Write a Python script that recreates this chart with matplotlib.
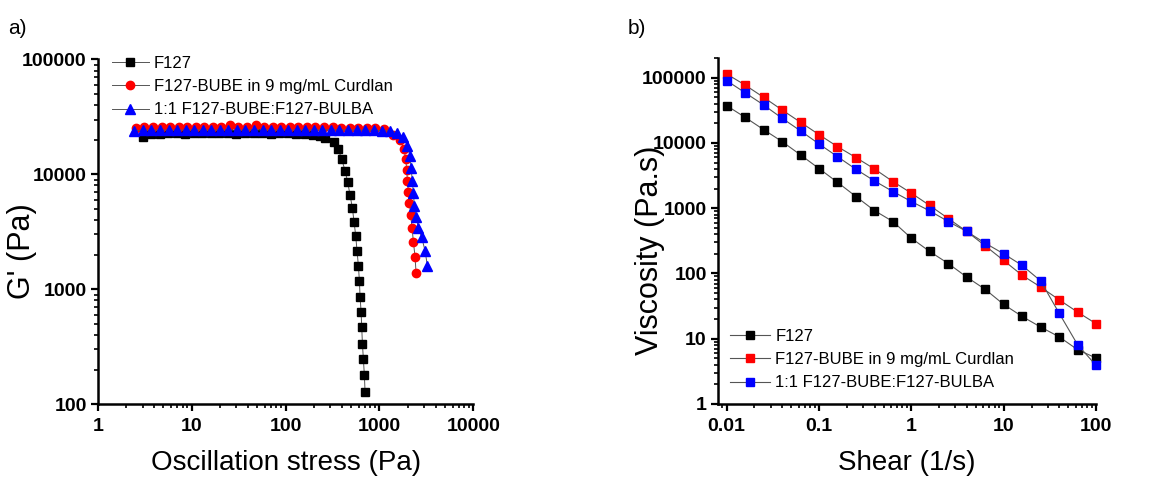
import numpy as np
import matplotlib
matplotlib.use("Agg")
import matplotlib.pyplot as plt
from matplotlib.ticker import FixedLocator, FixedFormatter, LogLocator, NullFormatter

plt.rcParams['font.family'] = ['Liberation Sans', 'DejaVu Sans']

# ---- panel a: amplitude sweep, G' vs oscillation stress ----
f127_stress = [3.0, 3.7, 4.56, 5.62, 6.93, 8.55, 10.5, 13.0, 16.0, 19.7, 24.3, 30.0,
               37.0, 45.6, 56.2, 69.3, 85.5, 105, 130, 160, 198, 230, 263, 331, 365,
               396, 430, 459, 486, 515, 536, 558, 577, 596, 611, 621, 637, 647, 658,
               674, 690, 702]
f127_g = [21000, 22300, 22600, 22700, 22700, 22600, 22700, 22700, 22800, 22700, 22700,
          22600, 22700, 22700, 22700, 22600, 22700, 22700, 22600, 22400, 22000, 21500,
          20800, 19200, 16500, 13500, 10800, 8520, 6610, 5060, 3870, 2930, 2150, 1610,
          1190, 863, 640, 468, 337, 246, 180, 129]

bube_stress = [2.55, 3.14, 3.88, 4.78, 5.9, 7.27, 8.96, 11.1, 13.6, 16.8, 20.7, 25.6,
               31.5, 38.9, 47.9, 59.1, 72.9, 89.9, 111, 137, 168, 208, 256, 316, 389,
               480, 592, 730, 900, 1110, 1406, 1656, 1827, 1903, 1951, 1983, 2032, 2083,
               2153, 2224, 2296, 2392, 2450]
bube_g = [25500, 25900, 25600, 25700, 25800, 25600, 25700, 25800, 25600, 25700, 25800,
          27000, 25700, 25600, 26800, 25700, 25800, 25600, 25700, 25600, 25800, 25600,
          25700, 25600, 25500, 25500, 25400, 25300, 25200, 24800, 22000, 19900, 16500,
          13500, 10900, 8810, 7070, 5670, 4430, 3390, 2600, 1920, 1400]

blend_stress = [2.45, 3.02, 3.73, 4.6, 5.67, 6.99, 8.62, 10.6, 13.1, 16.2, 19.9, 24.6,
                30.3, 37.4, 46.1, 56.8, 70.1, 86.4, 107, 131, 162, 200, 247, 304, 375,
                462, 570, 703, 867, 1069, 1300, 1550, 1770, 1983, 2117, 2170, 2241, 2296,
                2354, 2450, 2595, 2815, 3055, 3236]
blend_g = [24000, 24200, 24300, 24200, 24300, 24200, 24300, 24400, 24300, 24200, 24300,
           24300, 24200, 24300, 24400, 24300, 24300, 24200, 24300, 24300, 24300, 24300,
           24300, 24400, 24300, 24300, 24300, 24200, 24200, 24000, 23800, 22800, 21300,
           17700, 14400, 11300, 8740, 6840, 5340, 4290, 3440, 2830, 2170, 1607]

# ---- panel b: flow sweep, viscosity vs shear rate ----
shear = [0.01, 0.0158, 0.0251, 0.0398, 0.0631, 0.1, 0.158, 0.251, 0.398, 0.631, 1,
         1.58, 2.51, 3.98, 6.31, 10, 15.8, 25.1, 39.8, 63.1, 100]
visc_f127 = [37250, 24700, 16000, 10500, 6550, 4050, 2500, 1510, 920, 625, 347, 217,
             142, 88, 57, 33.5, 22, 15.1, 10.7, 6.8, 5.06]
visc_bube = [113800, 77200, 50000, 32000, 20700, 13400, 8800, 5970, 4000, 2560, 1700,
             1100, 695, 440, 265, 158, 94, 62, 39.5, 25.6, 17]
visc_blend = [90000, 58900, 38200, 23900, 15300, 9650, 6180, 3950, 2620, 1800, 1265,
              910, 625, 440, 291, 200, 133, 77, 24.7, 8.1, 3.9]

labels = ['F127', 'F127-BUBE in 9 mg/mL Curdlan', '1:1 F127-BUBE:F127-BULBA']
line_col = '#555555'

fig = plt.figure(figsize=(11.68, 4.79), dpi=100)
ax1 = fig.add_axes([0.0837, 0.156, 0.3216, 0.720])
ax2 = fig.add_axes([0.6147, 0.1566, 0.3237, 0.7223])


def style_axis(ax):
    ax.spines['top'].set_visible(False)
    ax.spines['right'].set_visible(False)
    for s in ('left', 'bottom'):
        ax.spines[s].set_linewidth(1.8)
    ax.tick_params(which='major', direction='out', length=5, width=1.6,
                   labelsize=14, pad=3)
    ax.tick_params(axis='x', which='major', pad=5)
    ax.tick_params(which='minor', direction='out', length=3, width=1.2)
    for lab in ax.get_xticklabels() + ax.get_yticklabels():
        lab.set_fontweight('bold')


# panel a
ax1.plot(f127_stress, f127_g, color=line_col, lw=0.7, marker='s', ms=5.5,
         mfc='black', mec='black', label=labels[0], clip_on=False)
ax1.plot(bube_stress, bube_g, color=line_col, lw=0.7, marker='o', ms=6,
         mfc='red', mec='red', label=labels[1], clip_on=False)
ax1.plot(blend_stress, blend_g, color=line_col, lw=0.7, marker='^', ms=6.5,
         mfc='blue', mec='blue', label=labels[2], clip_on=False)
ax1.set_xscale('log')
ax1.set_yscale('log')
ax1.set_xlim(1, 10000)
ax1.set_ylim(100, 100000)
xt = [1, 10, 100, 1000, 10000]
ax1.xaxis.set_major_locator(FixedLocator(xt))
ax1.xaxis.set_major_formatter(FixedFormatter([str(v) for v in xt]))
yt = [100, 1000, 10000, 100000]
ax1.yaxis.set_major_locator(FixedLocator(yt))
ax1.yaxis.set_major_formatter(FixedFormatter([str(v) for v in yt]))
for a in (ax1.xaxis, ax1.yaxis):
    a.set_minor_locator(LogLocator(base=10, subs=np.arange(2, 10), numticks=20))
    a.set_minor_formatter(NullFormatter())
ax1.set_xlabel('Oscillation stress (Pa)', fontsize=20, labelpad=11)
ax1.set_ylabel("G' (Pa)", fontsize=22)
ax1.yaxis.set_label_coords(-0.162, 0.444)
style_axis(ax1)
ax1.legend(loc='upper left', bbox_to_anchor=(0.02, 1.03), frameon=False,
           fontsize=12, handlelength=2.2, handletextpad=0.3, labelspacing=0.5,
           borderaxespad=0)

# panel b
ax2.plot(shear, visc_f127, color=line_col, lw=0.8, marker='s', ms=5.5,
         mfc='black', mec='black', label=labels[0], clip_on=False)
ax2.plot(shear, visc_bube, color=line_col, lw=0.8, marker='s', ms=5.5,
         mfc='red', mec='red', label=labels[1], clip_on=False)
ax2.plot(shear, visc_blend, color=line_col, lw=0.8, marker='s', ms=5.5,
         mfc='blue', mec='blue', label=labels[2], clip_on=False)
ax2.set_xscale('log')
ax2.set_yscale('log')
ax2.set_xlim(0.00805, 100)
ax2.set_ylim(1, 200000)
xt2 = [0.01, 0.1, 1, 10, 100]
ax2.xaxis.set_major_locator(FixedLocator(xt2))
ax2.xaxis.set_major_formatter(FixedFormatter(['0.01', '0.1', '1', '10', '100']))
yt2 = [1, 10, 100, 1000, 10000, 100000]
ax2.yaxis.set_major_locator(FixedLocator(yt2))
ax2.yaxis.set_major_formatter(FixedFormatter([str(v) for v in yt2]))
for a in (ax2.xaxis, ax2.yaxis):
    a.set_minor_locator(LogLocator(base=10, subs=np.arange(2, 10), numticks=20))
    a.set_minor_formatter(NullFormatter())
ax2.set_xlabel('Shear (1/s)', fontsize=20, labelpad=11)
ax2.set_ylabel('Viscosity (Pa.s)', fontsize=22)
ax2.yaxis.set_label_coords(-0.14, 0.445)
style_axis(ax2)
ax2.legend(loc='lower left', bbox_to_anchor=(0.015, 0.02), frameon=False,
           fontsize=12, handlelength=2.4, handletextpad=0.3, labelspacing=0.5,
           borderaxespad=0)

fig.text(0.007, 0.93, 'a)', fontsize=15)
fig.text(0.537, 0.93, 'b)', fontsize=15)

fig.savefig('out.png', dpi=100)
